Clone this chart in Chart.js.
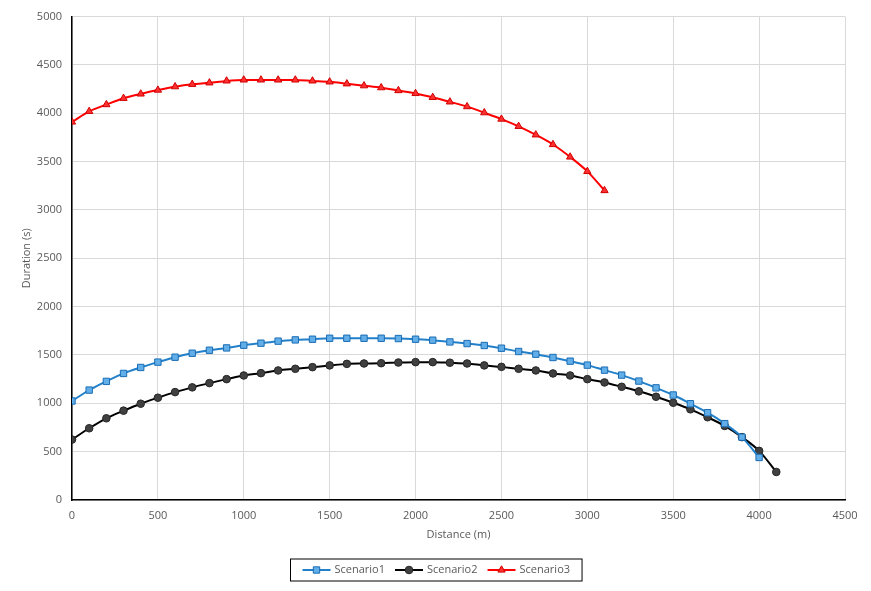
<!DOCTYPE html>
<html>
<head>
<meta charset="utf-8">
<script src="https://cdn.jsdelivr.net/npm/chart.js@4.4.1/dist/chart.umd.min.js"></script>
<style>
  html, body { margin: 0; padding: 0; background: #fff; }
  #wrap { width: 871px; height: 591px; position: relative; }
</style>
</head>
<body>
<div id="wrap"><canvas id="chart"></canvas></div>
<script>
// Distance steps (m) and durations (s)
const distance = [0, 100, 200, 300, 400, 500, 600, 700, 800, 900, 1000, 1100, 1200, 1300, 1400,
  1500, 1600, 1700, 1800, 1900, 2000, 2100, 2200, 2300, 2400, 2500, 2600, 2700, 2800, 2900,
  3000, 3100, 3200, 3300, 3400, 3500, 3600, 3700, 3800, 3900, 4000, 4100];

const scenario1 = [1024, 1137, 1227, 1309, 1371, 1426, 1477, 1518, 1549, 1573, 1601, 1622, 1643, 1656,
  1663, 1673, 1673, 1673, 1673, 1670, 1663, 1653, 1635, 1618, 1598, 1570, 1536, 1508, 1474, 1436,
  1395, 1343, 1292, 1230, 1160, 1086, 996, 903, 790, 650, 440];

const scenario2 = [625, 742, 845, 924, 996, 1058, 1116, 1165, 1209, 1250, 1288, 1312, 1340, 1357,
  1374, 1392, 1408, 1412, 1415, 1422, 1426, 1426, 1420, 1412, 1392, 1377, 1357, 1340, 1309, 1288,
  1250, 1216, 1171, 1124, 1068, 1006, 938, 856, 766, 650, 508, 290];

const scenario3 = [3910, 4020, 4090, 4155, 4200, 4240, 4275, 4300, 4315, 4335, 4345, 4345, 4345, 4345,
  4335, 4325, 4305, 4285, 4265, 4235, 4205, 4165, 4118, 4069, 4006, 3940, 3865, 3777, 3677, 3548,
  3399, 3201];

const seriesNames = ['Scenario1', 'Scenario2', 'Scenario3'];

const FONT = '"Open Sans", "Liberation Sans", sans-serif';
const TEXT = '#595959';

function pairs(values) {
  return values.map((v, i) => ({ x: distance[i], y: v }));
}

// Excel-like legend: line sample with marker, inside a thin box
const boxLegend = {
  id: 'boxLegend',
  afterDraw(chart) {
    const ctx = chart.ctx;
    const sets = chart.data.datasets;
    ctx.save();
    ctx.font = '11px ' + FONT;
    const sample = 28, gap = 4, spacing = 10, pad = 12;
    const widths = sets.map(d => sample + gap + ctx.measureText(d.label).width);
    const total = widths.reduce((a, b) => a + b, 0) + spacing * (sets.length - 1) + pad * 2;
    const left = Math.round((chart.width - total) / 2) + 0.5;
    const midY = 570;
    ctx.strokeStyle = '#000';
    ctx.lineWidth = 1;
    ctx.strokeRect(left, midY - 11, total, 22);

    let x = left + pad;
    sets.forEach((d, i) => {
      ctx.strokeStyle = d.borderColor;
      ctx.lineWidth = 2;
      ctx.beginPath();
      ctx.moveTo(x, midY);
      ctx.lineTo(x + sample, midY);
      ctx.stroke();
      ctx.fillStyle = d.pointBackgroundColor;
      ctx.strokeStyle = d.pointBorderColor;
      ctx.lineWidth = 1;
      Chart.helpers.drawPoint(ctx, { pointStyle: d.pointStyle, radius: d.pointRadius, borderWidth: 1 }, x + sample / 2, midY);
      ctx.fillStyle = TEXT;
      ctx.textBaseline = 'middle';
      ctx.fillText(d.label, x + sample + gap, midY);
      x += widths[i] + spacing;
    });
    ctx.restore();
  }
};

new Chart(document.getElementById('chart'), {
  type: 'line',
  data: {
    datasets: [
      {
        label: seriesNames[0],
        data: pairs(scenario1),
        borderColor: '#2180c9',
        borderWidth: 2,
        pointStyle: 'rect',
        pointRadius: 4.5,
        pointBackgroundColor: '#62aee8',
        pointBorderColor: '#1a6db5',
        pointBorderWidth: 1,
        cubicInterpolationMode: 'monotone'
      },
      {
        label: seriesNames[1],
        data: pairs(scenario2),
        borderColor: '#000000',
        borderWidth: 2,
        pointStyle: 'circle',
        pointRadius: 3.8,
        pointBackgroundColor: '#404040',
        pointBorderColor: '#262626',
        pointBorderWidth: 1,
        cubicInterpolationMode: 'monotone'
      },
      {
        label: seriesNames[2],
        data: pairs(scenario3),
        borderColor: '#ff0000',
        borderWidth: 2,
        pointStyle: 'triangle',
        pointRadius: 4.2,
        pointBackgroundColor: '#ff3030',
        pointBorderColor: '#d00000',
        pointBorderWidth: 1,
        cubicInterpolationMode: 'monotone'
      }
    ]
  },
  options: {
    responsive: true,
    maintainAspectRatio: false,
    animation: false,
    layout: { padding: { top: 15, right: 26, bottom: 46, left: 0 } },
    plugins: {
      legend: { display: false },
      tooltip: { enabled: false }
    },
    scales: {
      x: {
        type: 'linear',
        min: 0,
        max: 4500,
        ticks: { stepSize: 500, color: TEXT, font: { family: FONT, size: 11 }, padding: 9, maxRotation: 0, callback: v => String(v) },
        grid: { color: '#d9d9d9', drawTicks: false },
        border: { color: '#000', width: 1.5 },
        title: { display: true, text: 'Distance (m)', color: TEXT, font: { family: FONT, size: 11 }, padding: { top: 6 } },
        afterFit(scale) { scale.height = 45; }
      },
      y: {
        min: 0,
        max: 5000,
        ticks: { stepSize: 500, color: TEXT, font: { family: FONT, size: 11 }, padding: 10, callback: v => String(v) },
        grid: { color: '#d9d9d9', drawTicks: false },
        border: { color: '#000', width: 1.5 },
        title: { display: true, text: 'Duration (s)', color: TEXT, font: { family: FONT, size: 11 }, padding: { top: 20 } },
        afterFit(scale) { scale.width = 72; }
      }
    }
  },
  plugins: [boxLegend]
});
</script>
</body>
</html>
